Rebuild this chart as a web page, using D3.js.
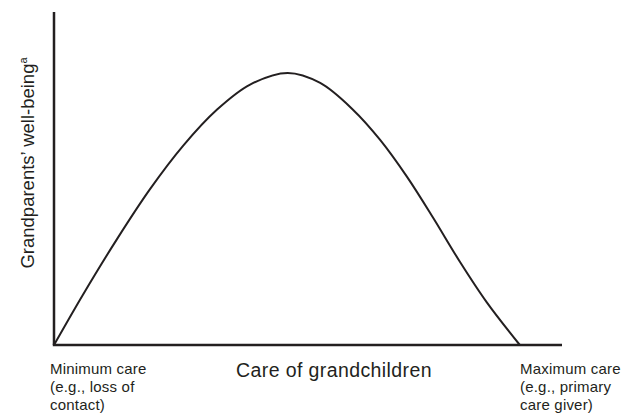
<!DOCTYPE html>
<html>
<head>
<meta charset="utf-8">
<script src="https://cdn.jsdelivr.net/npm/d3@7"></script>
<style>
  body { margin: 0; background: #fff; }
  text { font-family: "Liberation Sans", Arial, sans-serif; fill: #231f20; }
</style>
</head>
<body>
<div id="canvas"></div>
<script>
// care of grandchildren (0 = none, 10 = axis end) vs well-being (0..10)
const care = [0, 0.57, 1.24, 1.89, 2.54, 3.21, 3.86, 4.6, 5.24, 5.89, 6.42, 6.95, 7.46, 7.99, 8.52, 9.17]
const wellBeing = [0, 1.51, 3.18, 4.68, 5.98, 7.07, 7.82, 8.17, 7.87, 7.06, 6.16, 5.05, 3.83, 2.5, 1.28, 0]

const xTitle = 'Care of grandchildren'
const yTitle = 'Grandparents\u2019 well-being'
const leftLabel = ['Minimum care', '(e.g., loss of', 'contact)']
const rightLabel = ['Maximum care', '(e.g., primary', 'care giver)']

const width = 628, height = 413
const ink = '#231f20'

let svg = d3.select("#canvas").append("svg")
    .attr("width", width)
    .attr("height", height)

let x = d3.scaleLinear().domain([0, 10]).range([54, 562])
let y = d3.scaleLinear().domain([0, 10]).range([345, 12])

// axes: just the two bare lines, no ticks
svg.append("line")
    .attr("x1", x(0)).attr("y1", y(0))
    .attr("x2", x(0)).attr("y2", y(10))
    .attr("stroke", ink).attr("stroke-width", 2.5)

svg.append("line")
    .attr("x1", x(0) - 1.2).attr("y1", y(0))
    .attr("x2", x(10)).attr("y2", y(0))
    .attr("stroke", ink).attr("stroke-width", 2.5)

let points = care.map((c, i) => [c, wellBeing[i]])

svg.append("path")
    .datum(points)
    .attr("fill", "none")
    .attr("stroke", ink)
    .attr("stroke-width", 2)
    .attr("d", d3.line().x(d => x(d[0])).y(d => y(d[1])).curve(d3.curveCatmullRom.alpha(0.5)))

svg.append("text")
    .attr("x", 334).attr("y", 377)
    .attr("text-anchor", "middle")
    .attr("font-size", 19.5)
    .attr("letter-spacing", 0.4)
    .text(xTitle)

let yt = svg.append("text")
    .attr("transform", "translate(34,163) rotate(-90)")
    .attr("text-anchor", "middle")
    .attr("font-size", 18.5)
    .text(yTitle)
yt.append("tspan").attr("font-size", 11).attr("dy", -7).text("a")

svg.selectAll("leftLabel")
    .data(leftLabel)
    .enter().append("text")
    .attr("x", 50)
    .attr("y", (d, i) => 374 + i * 18)
    .attr("font-size", 15)
    .attr("letter-spacing", 0.2)
    .text(d => d)

svg.selectAll("rightLabel")
    .data(rightLabel)
    .enter().append("text")
    .attr("x", 520)
    .attr("y", (d, i) => 374 + i * 18)
    .attr("font-size", 15)
    .attr("letter-spacing", 0.2)
    .text(d => d)
</script>
</body>
</html>
